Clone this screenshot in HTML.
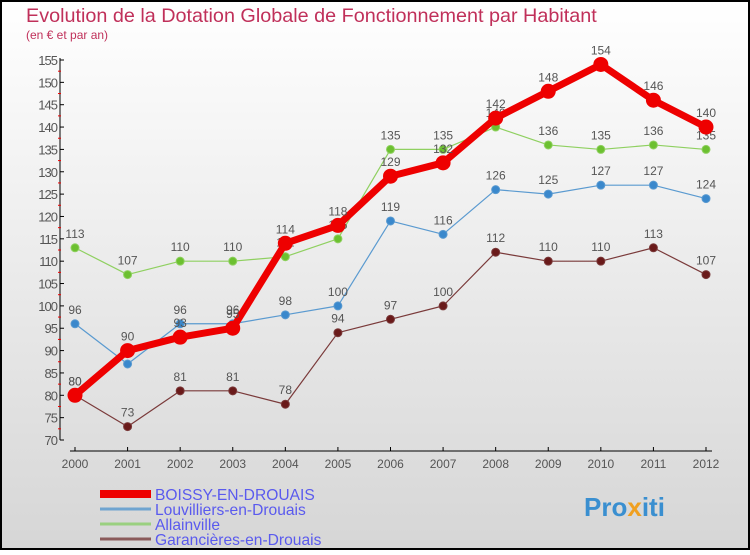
<!DOCTYPE html>
<html><head><meta charset="utf-8"><style>
html,body{margin:0;padding:0}
body{width:750px;height:550px;overflow:hidden;font-family:"Liberation Sans",sans-serif}
svg text{font-family:"Liberation Sans",sans-serif}
</style></head><body>
<svg id="chart" width="750" height="550" xmlns="http://www.w3.org/2000/svg">
<defs><linearGradient id="bg" x1="0" y1="0" x2="0" y2="1"><stop offset="0" stop-color="#ffffff"/><stop offset="1" stop-color="#d6d6d6"/></linearGradient></defs>
<rect x="1" y="1" width="748" height="548" fill="url(#bg)" stroke="#000" stroke-width="2"/>
<text x="26" y="22" font-size="19.8" fill="#c0305a">Evolution de la Dotation Globale de Fonctionnement par Habitant</text>
<text x="26" y="39" font-size="12" fill="#c0305a">(en € et par an)</text>
<g id="axes"></g><g id="series"></g><g id="legend"></g>
<text x="584" y="516" font-size="26" font-weight="bold" fill="#3a8fd0">Pro<tspan fill="#f0a020">x</tspan>iti</text>
</svg>
<script>
const years=[2000,2001,2002,2003,2004,2005,2006,2007,2008,2009,2010,2011,2012];
const yTicks=[70,75,80,85,90,95,100,105,110,115,120,125,130,135,140,145,150,155];
const boissy=[80,90,93,95,114,118,129,132,142,148,154,146,140];
const louvilliers=[96,87,96,96,98,100,119,116,126,125,127,127,124];
const allainville=[113,107,110,110,111,115,135,135,140,136,135,136,135];
const garancieres=[80,73,81,81,78,94,97,100,112,110,110,113,107];
const seriesNames=["BOISSY-EN-DROUAIS","Louvilliers-en-Drouais","Allainville","Garancières-en-Drouais"];
const NS="http://www.w3.org/2000/svg";
const x=i=>75+i*(706-75)/12;
const y=v=>440-(v-70)*(380/85);
function mk(t,a,p){const e=document.createElementNS(NS,t);for(const k in a)e.setAttribute(k,a[k]);p.appendChild(e);return e;}
const ax=document.getElementById('axes');
let l=mk('line',{x1:60,y1:58,x2:60,y2:440,stroke:'#000'},ax);


l=mk('line',{x1:70,y1:451,x2:712,y2:451,stroke:'#000'},ax);


yTicks.forEach((v,k)=>{
 mk('line',{x1:60,y1:y(v),x2:64,y2:y(v),stroke:'#000'},ax);
 if(k<yTicks.length-1) mk('line',{x1:58,y1:y(v+2.5),x2:61,y2:y(v+2.5),stroke:'#e00'},ax);
 const t=mk('text',{x:57,y:y(v)+5,'font-size':13,fill:'#555','text-anchor':'end','letter-spacing':'-1'},ax);
 t.textContent=v;
 
 
});
years.forEach((yr,i)=>{
 mk('line',{x1:x(i),y1:447,x2:x(i),y2:451,stroke:'#000'},ax);
 const t=mk('text',{x:x(i),y:468,'font-size':12,fill:'#555','text-anchor':'middle'},ax);
 t.textContent=yr;
 
 
});
const sg=document.getElementById('series');
function draw(data,color,w,r,name,ptColor){
 const g=mk('g',{},sg);
 
 
 const pl=mk('polyline',{points:data.map((v,i)=>x(i)+','+y(v)).join(' '),fill:'none',stroke:color,'stroke-width':w,'stroke-linejoin':'round'},g);
 
 
 data.forEach((v,i)=>{
  const c=mk('circle',{cx:x(i),cy:y(v),r:r,fill:ptColor,stroke:color,'stroke-width':1},g);
  
  
  const t=mk('text',{x:x(i),y:y(v)-10,'font-size':12,fill:'#555','text-anchor':'middle'},g);
  t.textContent=v;
  
  
 });
}
draw(garancieres,'#7a3a3a',1.2,4,'garancieres-series','#6a1a1a');
draw(allainville,'#8fd060',1.2,4,'allainville-series','#6cc030');
draw(louvilliers,'#5a9ad0',1.2,4,'louvilliers-series','#3a88cc');
draw(boissy,'#ee0000',7,7,'boissy-series','#ee0000');
const lg=document.getElementById('legend');
const lc=[['#ee0000',8],['#6fa4d0',3],['#9ad080',3],['#8a5a5a',3]];
seriesNames.forEach((n,i)=>{
 const yy=494+i*15;
 const g=mk('g',{},lg);
 
 
 mk('line',{x1:100,y1:yy,x2:151,y2:yy,stroke:lc[i][0],'stroke-width':lc[i][1]},g);
 const t=mk('text',{x:155,y:yy+6,'font-size':15.6,fill:'#5a5aee'},g);
 t.textContent=n;
});
</script>
</body></html>
